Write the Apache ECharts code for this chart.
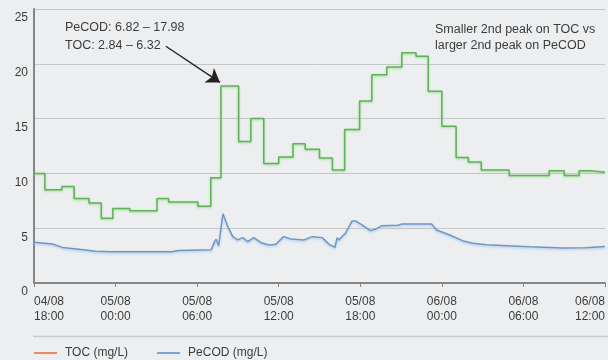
<!DOCTYPE html>
<html>
<head>
<meta charset="utf-8">
<script src="https://cdn.jsdelivr.net/npm/echarts@6/dist/echarts.min.js"></script>
<style>
html,body{margin:0;padding:0;background:#eceef0;}
#c{width:608px;height:360px;}
</style>
</head>
<body>
<div id="c"></div>
<script>
// Hours since 04/08 18:00
var tickLabels = ['04/08\n18:00','05/08\n00:00','05/08\n06:00','05/08\n12:00','05/08\n18:00','06/08\n00:00','06/08\n06:00','06/08\n12:00'];
var tickHours = [0, 6, 12, 18, 24, 30, 36, 42];

// PeCOD (green step line): segment start hour and value
var pecodHours = [0, 0.8, 2.05, 2.95, 4.05, 4.95, 5.8, 7.05, 9.05, 9.9, 12.05, 13.0, 13.75, 15.05, 15.95, 16.9, 18.0, 19.05, 19.95, 21.0, 21.95, 22.85, 23.95, 24.85, 25.95, 27.05, 28.1, 29.0, 30.0, 31.05, 31.95, 32.9, 34.95, 37.9, 39.0, 40.1, 40.95, 42];
var pecodValues = [10.0, 8.5, 8.8, 7.7, 7.3, 5.9, 6.8, 6.6, 7.7, 7.4, 7.0, 9.6, 17.98, 12.9, 15.0, 10.9, 11.5, 12.7, 12.2, 11.4, 10.3, 14.0, 16.6, 19.0, 19.7, 21.0, 20.7, 17.5, 14.3, 11.45, 11.05, 10.3, 9.8, 10.25, 9.8, 10.25, 10.1, 10.1];

// TOC (blue line)
var tocHours = [0, 1.35, 2.08, 3.3, 4.52, 5.73, 7.44, 10.12, 10.6, 13.04, 13.29, 13.4, 13.58, 13.9, 14.26, 14.62, 14.99, 15.35, 15.72, 16.16, 16.7, 17.31, 17.79, 18.36, 18.89, 19.87, 20.47, 21.2, 21.7, 22.14, 22.3, 22.42, 22.91, 23.4, 23.64, 24.13, 24.74, 25.1, 25.6, 26.81, 27.05, 27.91, 29.25, 29.61, 30.58, 31.56, 32.3, 33.27, 36.41, 38.87, 40.58, 42];
var tocValues = [3.72, 3.56, 3.25, 3.08, 2.9, 2.84, 2.84, 2.85, 2.97, 3.04, 3.8, 4.0, 3.4, 6.32, 5.14, 4.23, 3.93, 4.14, 3.77, 4.14, 3.68, 3.47, 3.53, 4.23, 4.02, 3.93, 4.23, 4.14, 3.53, 3.26, 4.14, 3.93, 4.54, 5.66, 5.66, 5.3, 4.78, 4.9, 5.23, 5.27, 5.39, 5.39, 5.39, 4.84, 4.38, 3.84, 3.62, 3.5, 3.3, 3.2, 3.22, 3.32];

var yTicks = [0, 5, 10, 15, 20, 25];

function zip(a, b) { return a.map(function (v, i) { return [v, b[i]]; }); }

var FONT = 'Liberation Sans, Arial, sans-serif';
var TXT = '#3c3c3c';

var chart = echarts.init(document.getElementById('c'), null, {renderer: 'canvas'});
chart.setOption({
  backgroundColor: '#eceef0',
  animation: false,
  grid: {left: 34, top: 9, right: -2, bottom: 77, containLabel: false},
  legend: {
    left: 34, top: 347, padding: 0,
    itemWidth: 23, itemHeight: 2, itemGap: 29,
    icon: 'rect',
    textStyle: {color: TXT, fontFamily: FONT, fontSize: 12, padding: [0, 0, 0, 3]},
    data: [
      {name: 'TOC (mg/L)', itemStyle: {color: '#ee8a5e'}},
      {name: 'PeCOD (mg/L)', itemStyle: {color: '#7da4cf'}}
    ],
    selectedMode: false
  },
  xAxis: {
    type: 'value', min: tickHours[0], max: tickHours[tickHours.length - 1], interval: 6,
    axisLine: {show: true, lineStyle: {color: '#858585', width: 2}},
    axisTick: {show: true, length: 4, lineStyle: {color: '#858585', width: 1}},
    splitLine: {show: false},
    axisLabel: {
      color: TXT, fontFamily: FONT, fontSize: 12, lineHeight: 15, margin: 11,
      alignMinLabel: 'left', alignMaxLabel: 'right',
      formatter: function (v) { var i = tickHours.indexOf(v); return i >= 0 ? tickLabels[i] : ''; }
    }
  },
  yAxis: {
    type: 'value', min: yTicks[0], max: yTicks[yTicks.length - 1], interval: 5,
    axisLine: {show: true, lineStyle: {color: '#858585', width: 2}},
    axisTick: {show: false},
    splitLine: {show: true, lineStyle: {color: '#c4c6c8', width: 1}},
    axisLabel: {color: TXT, fontFamily: FONT, fontSize: 12, margin: 6, verticalAlign: 'top', lineHeight: 14, padding: [2, 0, 0, 0]}
  },
  series: [
    {
      name: 'PeCOD (mg/L)', type: 'line', step: 'end', showSymbol: false, symbol: 'none',
      data: zip(pecodHours, pecodValues),
      lineStyle: {color: '#5cb455', width: 1.5, shadowColor: 'rgba(140,215,130,0.8)', shadowBlur: 2, shadowOffsetY: 1},
      itemStyle: {color: '#5cb455'},
      z: 3,
      markLine: {
        silent: true, animation: false,
        symbol: ['none', 'arrow'], symbolSize: 13,
        label: {show: false},
        emphasis: {disabled: true},
        lineStyle: {color: '#222', width: 1.4, type: 'solid'},
        itemStyle: {color: '#222'},
        data: [[{coord: [9.7, 21.6]}, {coord: [13.68, 18.3]}]]
      }
    },
    {
      name: 'TOC (mg/L)', type: 'line', showSymbol: false, symbol: 'none',
      data: zip(tocHours, tocValues),
      lineStyle: {color: '#6f97c2', width: 1.5, shadowColor: 'rgba(170,205,240,0.9)', shadowBlur: 2, shadowOffsetY: 1.5},
      itemStyle: {color: '#6f97c2'},
      z: 2
    }
  ],
  graphic: [
    {type: 'text', left: 65, top: 19, style: {text: 'PeCOD: 6.82 \u2013 17.98\nTOC: 2.84 \u2013 6.32', fill: TXT, font: '12.5px ' + FONT, lineHeight: 18}},
    {type: 'text', left: 435, top: 22, style: {text: 'Smaller 2nd peak on TOC vs\nlarger 2nd peak on PeCOD', fill: TXT, font: '12.5px ' + FONT, lineHeight: 16}},
    {type: 'line', shape: {x1: 33, y1: 336.5, x2: 608, y2: 336.5}, style: {stroke: '#c8cacc', lineWidth: 1.5}}
  ]
});
</script>
</body>
</html>
